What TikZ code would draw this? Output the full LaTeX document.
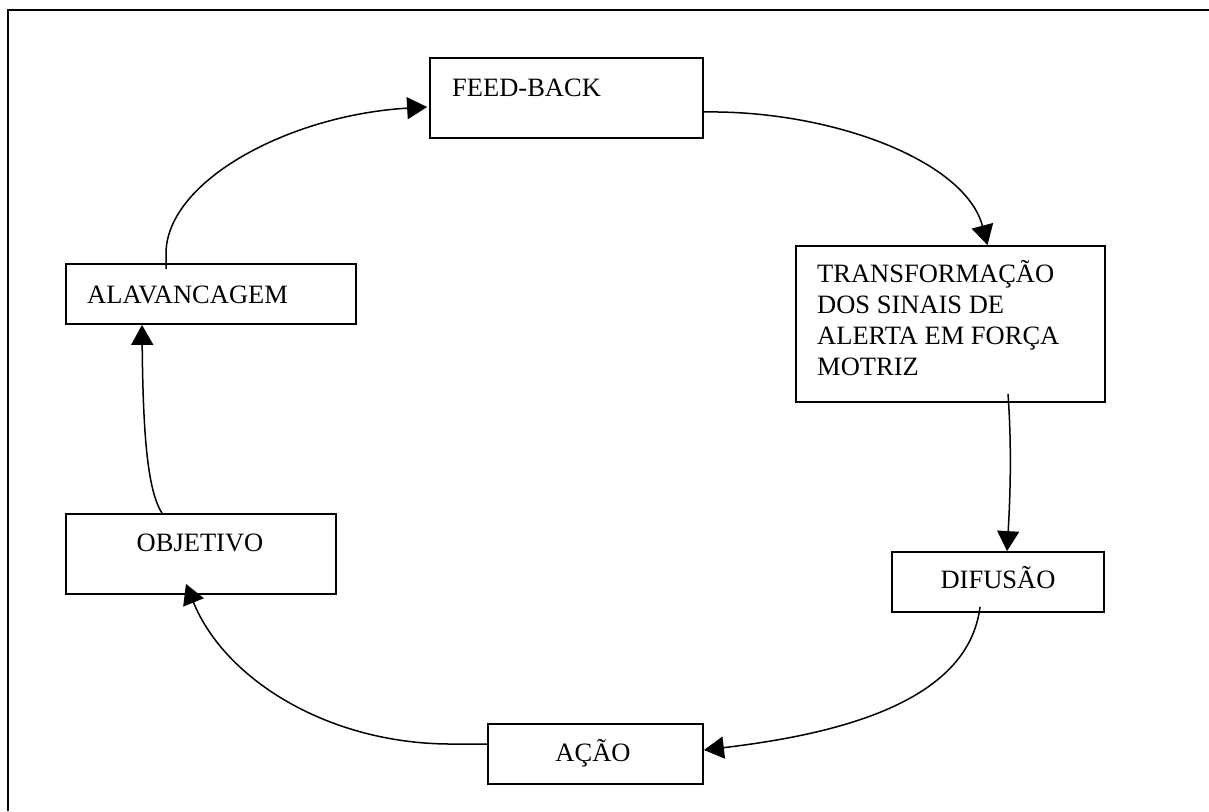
\documentclass[tikz,border=0pt]{standalone}
\usepackage{fontspec}
\setmainfont{Liberation Serif}
\usetikzlibrary{arrows.meta,calc}

\begin{document}
\begin{tikzpicture}[
  x=1pt, y=-1pt,
  frameline/.style={line width=2.2pt, black},
  box/.style={draw, line width=1.8pt, rectangle, inner sep=0pt},
  lbl/.style={inner sep=0pt, font=\fontsize{26.5}{31}\selectfont},
  flow/.style={line width=1.5pt, -{Triangle[length=20pt, width=22pt]}}
]
\useasboundingbox (0,0) rectangle (1209,811);

% outer frame (left and top edges)
\draw[frameline] (8,811) -- (8,10) -- (1209,10);

% boxes
\node[box, minimum width=273pt, minimum height=80pt] (fb)   at (566.5,98) {};
\node[box, minimum width=309pt, minimum height=156pt] (tr)  at (950.5,324) {};
\node[box, minimum width=212pt, minimum height=60pt] (dif)  at (998,582) {};
\node[box, minimum width=215pt, minimum height=60pt] (ac)   at (595.5,754) {};
\node[box, minimum width=270pt, minimum height=80pt] (ob)   at (201,554) {};
\node[box, minimum width=290pt, minimum height=60pt] (alav) at (211,294) {};

% labels (the multi-line label is anchored on its last baseline)
\node[lbl, anchor=base west] (fbt) at (452,96) {FEED-BACK};
\node[lbl, anchor=base west, align=left] (trt) at (817,375)
  {TRANSFORMAÇÃO\\DOS SINAIS DE\\ALERTA EM FORÇA\\MOTRIZ};
\node[lbl, anchor=base] (dift) at (998,588) {DIFUSÃO};
\node[lbl, anchor=base] (act) at (593,761) {AÇÃO};
\node[lbl, anchor=base] (obt) at (200,551) {OBJETIVO};
\node[lbl, anchor=base west] (alavt) at (87,303) {ALAVANCAGEM};

% connectors around the cycle
\draw[flow] ($(alav.north)+(-45,6)$) -- ($(alav.north)+(-45,-11)$)
  .. controls (168,180) and (290,115) .. ($(fb.west)+(-2,9)$);
\draw[flow] ($(fb.east)+(0,14)$)
  .. controls (830,110) and (965,160) .. ($(tr.north)+(37,0)$);
\draw[flow] ($(tr.south)+(57.5,-9)$)
  .. controls (1012,450) and (1010,500) .. ($(dif.north)+(9,0)$);
\draw[flow] ($(dif.south)+(-18,-6)$)
  .. controls (968,705) and (830,735) .. ($(ac.east)+(0,-4)$);
\draw[flow] ($(ac.west)+(0,-10)$) -- ($(ac.west)+(-33,-10)$)
  .. controls (330,745) and (225,680) .. ($(ob.south)+(-15,-11)$);
\draw[flow] ($(ob.north)+(-39,0)$)
  .. controls (147,490) and (143,430) .. ($(alav.south)+(-69,0)$);
\end{tikzpicture}
\end{document}
